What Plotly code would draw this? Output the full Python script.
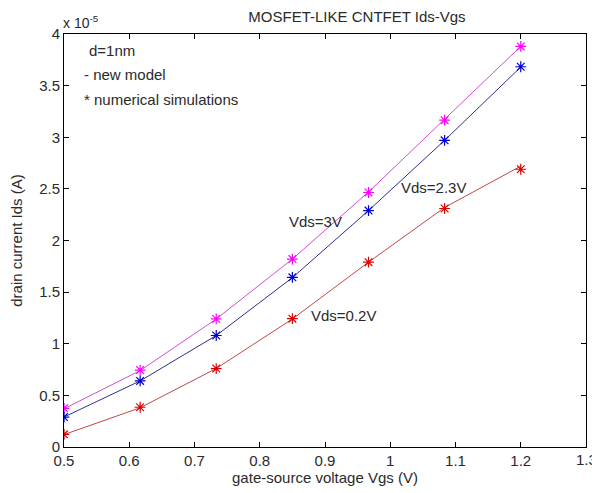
import plotly.graph_objects as go

# Gate-source voltage (V)
vgs = [0.5, 0.6167, 0.7333, 0.85, 0.9667, 1.0833, 1.2]

# Drain current in units of 1e-5 A
# new model (lines)
model_3v = [0.37, 0.74, 1.24, 1.82, 2.47, 3.17, 3.88]
model_23v = [0.29, 0.64, 1.08, 1.64, 2.29, 2.97, 3.68]
model_02v = [0.12, 0.38, 0.76, 1.24, 1.79, 2.32, 2.72]
# numerical simulations (asterisks)
sim_3v = [0.375, 0.745, 1.24, 1.82, 2.465, 3.165, 3.88]
sim_23v = [0.29, 0.64, 1.08, 1.643, 2.29, 2.97, 3.683]
sim_02v = [0.123, 0.385, 0.76, 1.243, 1.79, 2.31, 2.69]

x_ticks = [0.5, 0.6, 0.7, 0.8, 0.9, 1.0, 1.1, 1.2, 1.3]
x_tick_text = ["0.5", "0.6", "0.7", "0.8", "0.9", "1", "1.1", "1.2", "1.3"]
y_ticks = [0, 0.5, 1, 1.5, 2, 2.5, 3, 3.5, 4]
y_tick_text = ["0", "0.5", "1", "1.5", "2", "2.5", "3", "3.5", "4"]

FONT = "Liberation Sans, Arial, sans-serif"
TXT = "#2a2a2a"
fig = go.Figure()

series = [
    (model_3v, sim_3v, "#d050d0", "#ff00ff"),
    (model_23v, sim_23v, "#30308a", "#0000d0"),
    (model_02v, sim_02v, "#c04848", "#dd0000"),
]
for m, s, lc, mc in series:
    fig.add_trace(go.Scatter(x=vgs, y=m, mode="lines",
                             line=dict(color=lc, width=1), showlegend=False))
    fig.add_trace(go.Scatter(x=vgs, y=s, mode="markers",
                             marker=dict(symbol="asterisk-open", size=9, color=mc,
                                         line=dict(color=mc, width=1.2)),
                             showlegend=False))

axis_common = dict(showline=True, linecolor="black", linewidth=1, mirror="ticks",
                   ticks="inside", ticklen=5, tickcolor="black", showgrid=False,
                   zeroline=False, tickfont=dict(family=FONT, size=15, color=TXT))

fig.update_xaxes(range=[0.5, 1.3], tickvals=x_ticks, ticktext=x_tick_text,
                 title=dict(text="gate-source voltage Vgs (V)", standoff=2,
                            font=dict(family=FONT, size=15, color=TXT)),
                 **axis_common)
fig.update_yaxes(range=[0, 4], tickvals=y_ticks, ticktext=y_tick_text,
                 title=dict(text="drain current Ids (A)", standoff=12,
                            font=dict(family=FONT, size=15, color=TXT)),
                 **axis_common)

ann_font = dict(family=FONT, size=15, color=TXT)
annotations = [
    dict(x=0.886, y=2.18, text="Vds=3V", showarrow=False, font=ann_font),
    dict(x=1.067, y=2.51, text="Vds=2.3V", showarrow=False, font=ann_font),
    dict(x=0.929, y=1.27, text="Vds=0.2V", showarrow=False, font=ann_font),
    dict(x=0.535, y=3.845, text="d=1nm", showarrow=False, xanchor="left", font=ann_font),
    dict(x=0.527, y=3.61, text="- new model", showarrow=False, xanchor="left", font=ann_font),
    dict(x=0.527, y=3.37, text="* numerical simulations", showarrow=False, xanchor="left", font=ann_font),
    dict(xref="paper", yref="paper", x=-0.005, y=1.0, yshift=1, xanchor="left", yanchor="bottom",
         text="x 10<sup>-5</sup>", showarrow=False, font=dict(family=FONT, size=14, color=TXT)),
    # last x tick label, clipped at the page edge as in the original
    dict(x=x_ticks[-1], xref="x", yref="paper", y=0, yanchor="top", yshift=-2,
         text=x_tick_text[-1], showarrow=False, font=ann_font),
]

fig.update_layout(
    width=592, height=493,
    margin=dict(l=64, r=6, t=34, b=46),
    paper_bgcolor="white", plot_bgcolor="white",
    title=dict(text="MOSFET-LIKE CNTFET Ids-Vgs", x=(64 + 293) / 592, xanchor="center",
               y=1 - 17 / 493, yanchor="middle",
               font=dict(family=FONT, size=15, color=TXT)),
    annotations=annotations,
)

fig.write_html("out.html")
